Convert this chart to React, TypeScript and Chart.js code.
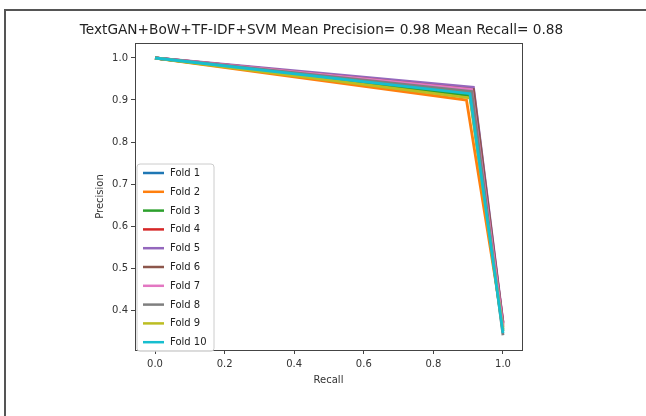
import React, { useEffect, useRef } from "react";
import { Chart, registerables } from "chart.js";

Chart.register(...registerables);

const titleText = "TextGAN+BoW+TF-IDF+SVM Mean Precision= 0.98 Mean Recall= 0.88";
const foldLabels = ["Fold 1", "Fold 2", "Fold 3", "Fold 4", "Fold 5", "Fold 6", "Fold 7", "Fold 8", "Fold 9", "Fold 10"];
const foldColors = ["#1f77b4", "#ff7f0e", "#2ca02c", "#d62728", "#9467bd", "#8c564b", "#e377c2", "#7f7f7f", "#bcbd22", "#17becf"];
// recall points of each fold's curve
const recallByFold = [
  [0, 0.905, 1],
  [0, 0.895, 1],
  [0, 0.91, 1],
  [0, 0.91, 1],
  [0, 0.915, 1],
  [0, 0.915, 1],
  [0, 0.91, 1],
  [0, 0.91, 1],
  [0, 0.905, 1],
  [0, 0.905, 1],
];
// precision points of each fold's curve
const precisionByFold = [
  [1, 0.915, 0.35],
  [1, 0.9, 0.36],
  [1, 0.91, 0.355],
  [1, 0.925, 0.37],
  [1, 0.93, 0.37],
  [1, 0.925, 0.365],
  [1, 0.925, 0.36],
  [1, 0.92, 0.34],
  [1, 0.905, 0.35],
  [1, 0.915, 0.345],
];
const xTicks = [0, 0.2, 0.4, 0.6, 0.8, 1.0];
const yTicks = [0.4, 0.5, 0.6, 0.7, 0.8, 0.9, 1.0];

const FONT = "'DejaVu Sans', sans-serif";

const framePlugin = {
  id: "framePlugin",
  beforeDraw(chart: any) {
    const ctx = chart.ctx;
    ctx.save();
    ctx.fillStyle = "#ffffff";
    ctx.fillRect(0, 0, chart.width, chart.height);
    // outer image border (top & left)
    ctx.strokeStyle = "#555";
    ctx.lineWidth = 2;
    ctx.beginPath();
    ctx.moveTo(5, chart.height);
    ctx.lineTo(5, 10);
    ctx.lineTo(chart.width, 10);
    ctx.stroke();
    ctx.restore();
  },
  afterDraw(chart: any) {
    const ctx = chart.ctx;
    const a = chart.chartArea;
    ctx.save();
    // plot frame
    ctx.strokeStyle = "#444";
    ctx.lineWidth = 1;
    ctx.strokeRect(a.left + 0.5, a.top + 0.5, a.right - a.left, a.bottom - a.top);
    // title
    ctx.fillStyle = "#222";
    ctx.font = `13.7px ${FONT}`;
    ctx.textAlign = "center";
    ctx.textBaseline = "middle";
    ctx.fillText(titleText, (a.left + a.right) / 2 - 7, a.top - 13);
    // legend (lower left, inside plot)
    const n = chart.data.datasets.length;
    const bx = a.left + 2;
    const by = a.top + 121;
    const rowH = 18.8;
    const bw = 77;
    const bh = rowH * (n - 1) + 18;
    ctx.fillStyle = "rgba(255,255,255,0.85)";
    ctx.strokeStyle = "#cccccc";
    ctx.lineWidth = 1;
    ctx.beginPath();
    const r = 3;
    ctx.moveTo(bx + r, by);
    ctx.lineTo(bx + bw - r, by);
    ctx.arcTo(bx + bw, by, bx + bw, by + r, r);
    ctx.lineTo(bx + bw, by + bh - r);
    ctx.arcTo(bx + bw, by + bh, bx + bw - r, by + bh, r);
    ctx.lineTo(bx + r, by + bh);
    ctx.arcTo(bx, by + bh, bx, by + bh - r, r);
    ctx.lineTo(bx, by + r);
    ctx.arcTo(bx, by, bx + r, by, r);
    ctx.closePath();
    ctx.fill();
    ctx.stroke();
    ctx.font = `10px ${FONT}`;
    ctx.textAlign = "left";
    ctx.textBaseline = "middle";
    chart.data.datasets.forEach((ds: any, i: number) => {
      const y = by + 9 + i * rowH;
      ctx.strokeStyle = ds.borderColor;
      ctx.lineWidth = 2.5;
      ctx.beginPath();
      ctx.moveTo(bx + 6, y);
      ctx.lineTo(bx + 27, y);
      ctx.stroke();
      ctx.fillStyle = "#222";
      ctx.fillText(ds.label, bx + 33, y + 0.5);
    });
    ctx.restore();
  },
};

export default function App() {
  const ref = useRef<HTMLCanvasElement | null>(null);

  useEffect(() => {
    if (!ref.current) return;
    const datasets = foldLabels.map((label, i) => ({
      label,
      data: recallByFold[i].map((x, j) => ({ x, y: precisionByFold[i][j] })),
      borderColor: foldColors[i],
      backgroundColor: foldColors[i],
      borderWidth: 2.8,
      pointRadius: 0,
      tension: 0,
      fill: false,
      order: foldLabels.length - 1 - i,
    }));
    const chart = new Chart(ref.current, {
      type: "line",
      data: { datasets },
      options: {
        responsive: false,
        animation: false,
        layout: { padding: { left: 0, top: 43, right: 124, bottom: 0 } },
        plugins: {
          legend: { display: false },
          title: { display: false },
          tooltip: { enabled: false },
        },
        scales: {
          x: {
            type: "linear",
            min: -0.0575,
            max: 1.0546,
            afterFit: (s: any) => {
              s.height = 66;
            },
            afterBuildTicks: (s: any) => {
              s.ticks = xTicks.map((v) => ({ value: v }));
            },
            ticks: {
              color: "#333",
              font: { family: FONT, size: 10 },
              padding: 4,
              maxRotation: 0,
              callback: (v: any) => Number(v).toFixed(1),
            },
            grid: { display: true, drawOnChartArea: false, drawTicks: true, tickLength: 4, color: "#444" },
            border: { display: true, color: "#444" },
            title: {
              display: true,
              text: "Recall",
              color: "#333",
              font: { family: FONT, size: 10 },
              padding: { top: 0, bottom: 30 },
            },
          },
          y: {
            type: "linear",
            min: 0.3048,
            max: 1.0357,
            afterFit: (s: any) => {
              s.width = 135;
            },
            afterBuildTicks: (s: any) => {
              s.ticks = yTicks.map((v) => ({ value: v }));
            },
            ticks: {
              color: "#333",
              font: { family: FONT, size: 10 },
              padding: 3,
              callback: (v: any) => Number(v).toFixed(1),
            },
            grid: { display: true, drawOnChartArea: false, drawTicks: true, tickLength: 4, color: "#444" },
            border: { display: true, color: "#444" },
            title: {
              display: true,
              text: "Precision",
              color: "#333",
              font: { family: FONT, size: 10 },
              padding: { top: 94, bottom: 0 },
            },
          },
        },
      } as any,
      plugins: [framePlugin],
    });
    return () => chart.destroy();
  }, []);

  return (
    <div style={{ position: "absolute", left: 0, top: 0, width: 646, height: 416, background: "#fff" }}>
      <canvas ref={ref} width={646} height={416} style={{ display: "block", width: 646, height: 416 }} />
    </div>
  );
}
